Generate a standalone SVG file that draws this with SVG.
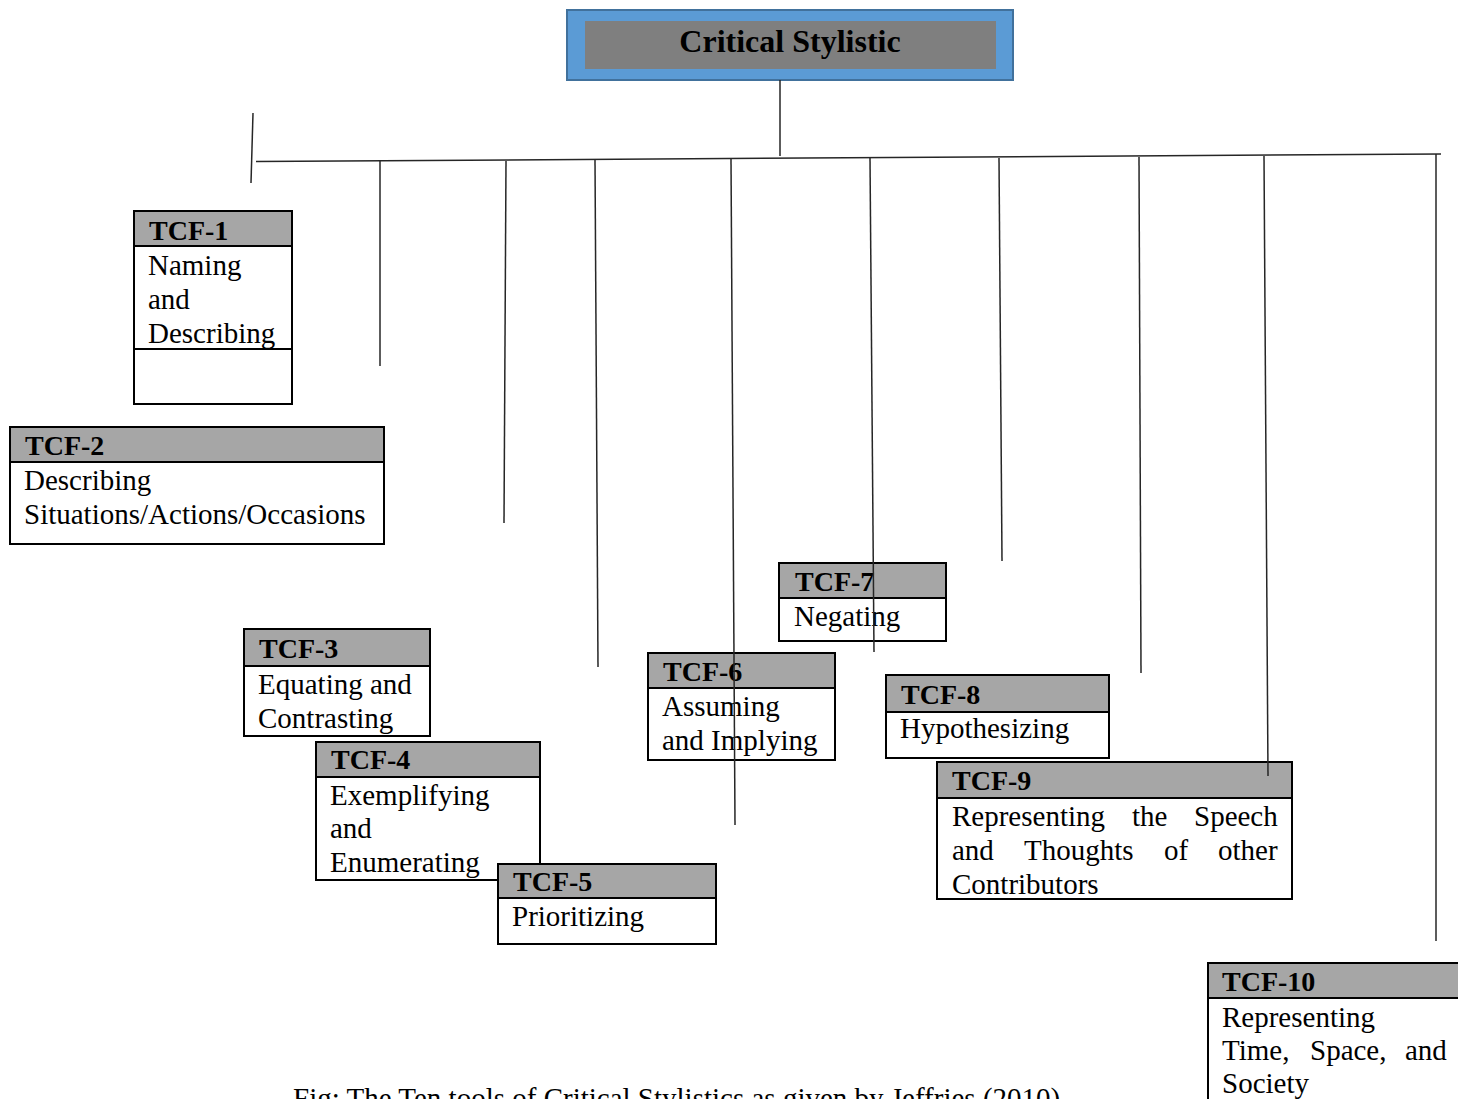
<svg xmlns="http://www.w3.org/2000/svg" width="1458" height="1099" viewBox="0 0 1458 1099">
<style>
  .box { fill: #ffffff; stroke: #000000; stroke-width: 2; }
  .hdr { fill: #A6A6A6; stroke: #000000; stroke-width: 2; }
  .ht { font-family: "Liberation Serif", "Times New Roman", serif; font-weight: bold; font-size: 28px; fill: #000; }
  .bt { font-family: "Liberation Serif", "Times New Roman", serif; font-size: 29px; fill: #000; }
  .conn line { stroke: #262626; stroke-width: 1.5; fill: none; }
</style>
<rect width="1458" height="1099" fill="#ffffff"/>

<g id="root">
  <rect x="567" y="10" width="446" height="70" fill="#5B9BD5" stroke="#41719C" stroke-width="2"/>
  <rect x="585" y="21" width="411" height="48" fill="#7F7F7F"/>
  <text x="790" y="52" text-anchor="middle" font-family="Liberation Serif, Times New Roman, serif" font-weight="bold" font-size="32" fill="#000">Critical Stylistic</text>
</g>

<g id="tcf1">
  <rect class="box" x="134" y="211" width="158" height="193"/>
  <rect class="hdr" x="134" y="211" width="158" height="35"/>
  <line x1="134" y1="349" x2="292" y2="349" stroke="#000" stroke-width="2"/>
  <text class="ht" x="149" y="240">TCF-1</text>
  <text class="bt" x="148" y="275">Naming</text>
  <text class="bt" x="148" y="309">and</text>
  <text class="bt" x="148" y="343">Describing</text>
</g>

<g id="tcf2">
  <rect class="box" x="10" y="427" width="374" height="117"/>
  <rect class="hdr" x="10" y="427" width="374" height="35"/>
  <text class="ht" x="25" y="455">TCF-2</text>
  <text class="bt" x="24" y="490">Describing</text>
  <text class="bt" x="24" y="524">Situations/Actions/Occasions</text>
</g>

<g id="tcf3">
  <rect class="box" x="244" y="629" width="186" height="107"/>
  <rect class="hdr" x="244" y="629" width="186" height="37"/>
  <text class="ht" x="259" y="658">TCF-3</text>
  <text class="bt" x="258" y="694">Equating and</text>
  <text class="bt" x="258" y="728">Contrasting</text>
</g>

<g id="tcf4">
  <rect class="box" x="316" y="742" width="224" height="138"/>
  <rect class="hdr" x="316" y="742" width="224" height="35"/>
  <text class="ht" x="331" y="769">TCF-4</text>
  <text class="bt" x="330" y="805">Exemplifying</text>
  <text class="bt" x="330" y="838">and</text>
  <text class="bt" x="330" y="872">Enumerating</text>
</g>

<g id="tcf5">
  <rect class="box" x="498" y="864" width="218" height="80"/>
  <rect class="hdr" x="498" y="864" width="218" height="34"/>
  <text class="ht" x="513" y="891">TCF-5</text>
  <text class="bt" x="512" y="926">Prioritizing</text>
</g>

<g id="tcf6">
  <rect class="box" x="648" y="653" width="187" height="107"/>
  <rect class="hdr" x="648" y="653" width="187" height="35"/>
  <text class="ht" x="663" y="681">TCF-6</text>
  <text class="bt" x="662" y="716">Assuming</text>
  <text class="bt" x="662" y="750">and Implying</text>
</g>

<g id="tcf7">
  <rect class="box" x="779" y="563" width="167" height="78"/>
  <rect class="hdr" x="779" y="563" width="167" height="35"/>
  <text class="ht" x="795" y="591">TCF-7</text>
  <text class="bt" x="794" y="626">Negating</text>
</g>

<g id="tcf8">
  <rect class="box" x="886" y="675" width="223" height="83"/>
  <rect class="hdr" x="886" y="675" width="223" height="37"/>
  <text class="ht" x="901" y="704">TCF-8</text>
  <text class="bt" x="900" y="738">Hypothesizing</text>
</g>

<g id="tcf9">
  <rect class="box" x="937" y="762" width="355" height="137"/>
  <rect class="hdr" x="937" y="762" width="355" height="36"/>
  <text class="ht" x="952" y="790">TCF-9</text>
  <text class="bt" y="826"><tspan x="952">Representing</tspan><tspan x="1132">the</tspan><tspan x="1194">Speech</tspan></text>
  <text class="bt" y="860"><tspan x="952">and</tspan><tspan x="1024">Thoughts</tspan><tspan x="1164">of</tspan><tspan x="1218">other</tspan></text>
  <text class="bt" x="952" y="894">Contributors</text>
</g>

<g id="tcf10">
  <rect class="box" x="1208" y="963" width="270" height="150"/>
  <rect class="hdr" x="1208" y="963" width="270" height="35"/>
  <text class="ht" x="1222" y="991">TCF-10</text>
  <text class="bt" x="1222" y="1027">Representing</text>
  <text class="bt" y="1060"><tspan x="1222">Time,</tspan><tspan x="1310">Space,</tspan><tspan x="1405">and</tspan></text>
  <text class="bt" x="1222" y="1093">Society</text>
</g>

<g id="caption">
  <text x="293" y="1108" font-family="Liberation Serif, Times New Roman, serif" font-size="29" fill="#000">Fig: The Ten tools of Critical Stylistics as given by Jeffries (2010)</text>
</g>

<g id="connectors" class="conn">
  <line x1="780" y1="80" x2="780" y2="156"/>
  <line x1="256" y1="161.5" x2="1441" y2="154"/>
  <line x1="253" y1="113" x2="251" y2="183"/>
  <line x1="380" y1="161" x2="380" y2="366"/>
  <line x1="506" y1="161" x2="504" y2="523"/>
  <line x1="595" y1="160" x2="598" y2="667"/>
  <line x1="731" y1="159" x2="735" y2="825"/>
  <line x1="870" y1="158" x2="874" y2="652"/>
  <line x1="999" y1="158" x2="1002" y2="561"/>
  <line x1="1139" y1="157" x2="1141" y2="673"/>
  <line x1="1264" y1="156" x2="1268" y2="776"/>
  <line x1="1436" y1="154" x2="1436" y2="941"/>
</g>
</svg>
